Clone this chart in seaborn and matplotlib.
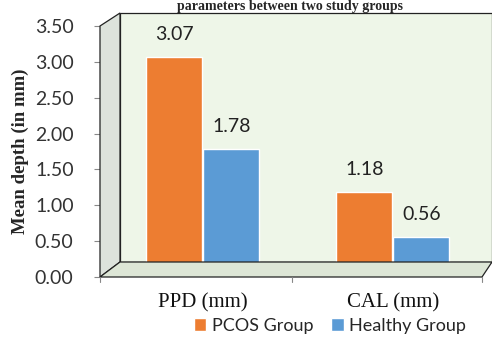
import matplotlib
matplotlib.use("Agg")
import matplotlib.pyplot as plt
import seaborn as sns
import pandas as pd
from matplotlib.patches import Polygon, Patch
from matplotlib.lines import Line2D

categories = ["PPD (mm)", "CAL (mm)"]
groups = ["PCOS Group", "Healthy Group"]
pcos = [3.07, 1.18]
healthy = [1.78, 0.56]
yticks = [0.0, 0.5, 1.0, 1.5, 2.0, 2.5, 3.0, 3.5]

df = pd.DataFrame({
    "cat": categories * 2,
    "group": [groups[0]] * 2 + [groups[1]] * 2,
    "val": pcos + healthy,
})

sns.set_theme(style="white")
W, H = 492, 338
fig = plt.figure(figsize=(W / 100, H / 100), dpi=100)
ax = fig.add_axes([100 / W, 1 - 277 / H, 388 / W, (277 - 26) / H])

def fp(x, y):
    return (x / W, 1 - y / H)

back = Polygon([fp(120, 262), fp(120, 13), fp(492, 13), fp(492, 262)], closed=True,
               transform=fig.transFigure, facecolor="#eef6e8", edgecolor="#222222", lw=0.9, zorder=-1)
side = Polygon([fp(100, 277), fp(120, 262), fp(120, 13), fp(100, 26)], closed=True,
               transform=fig.transFigure, facecolor="#dde3dc", edgecolor="#222222", lw=0.9, zorder=0)
floor = Polygon([fp(100, 277), fp(120, 262), fp(492, 262), fp(482, 277)], closed=True,
                transform=fig.transFigure, facecolor="#dde6d6", edgecolor="#222222", lw=0.9, zorder=0)
fig.patches.extend([back, side, floor])
for xt in (100, 292, 482):
    fig.lines.append(Line2D([xt / W, xt / W], [1 - 277 / H, 1 - 282 / H], transform=fig.transFigure,
                            color="#888888", lw=0.8))

ax.patch.set_alpha(0.0)

palette = {"PCOS Group": "#ED7D31", "Healthy Group": "#5B9BD5"}
sns.barplot(data=df, x="cat", y="val", hue="group", palette=palette, ax=ax,
            width=0.6, gap=0.02, legend=False, saturation=1)

for cont in ax.containers:
    ax.bar_label(cont, fmt="%.2f", padding=10, fontsize=14, family="Lato", color="#222222")

ax.set_ylim(0, 3.5)
ax.set_yticks(yticks)
ax.set_yticklabels([f"{t:.2f}" for t in yticks], fontsize=14, family="Lato", color="#333333")
ax.set_xticks([0, 1])
ax.set_xticklabels(categories, fontsize=15, family="Liberation Serif", color="#111111")
ax.set_xlabel("")
ax.set_ylabel("Mean depth (in mm)", fontsize=13.5, family="Liberation Serif", fontweight="bold", labelpad=4)
for s in ax.spines.values():
    s.set_visible(False)
ax.tick_params(axis="y", left=True, length=4, width=0.8, color="#888888", pad=15)
ax.tick_params(axis="x", length=0, pad=12)
ax.set_xlim(-0.54, 1.50)

handles = [Patch(facecolor=palette[g], label=g) for g in groups]
fig.legend(handles=handles, loc="lower center", bbox_to_anchor=(330 / W, -0.035), ncol=2, frameon=False,
           prop={"family": "Lato", "size": 13}, handlelength=0.7, handleheight=0.7, columnspacing=1.0,
           handletextpad=0.3)

fig.text(290 / W, 1.0, "parameters between two study groups", ha="center", va="top",
         fontsize=10, family="Liberation Serif", fontweight="bold")

fig.savefig("out.png", dpi=100)
